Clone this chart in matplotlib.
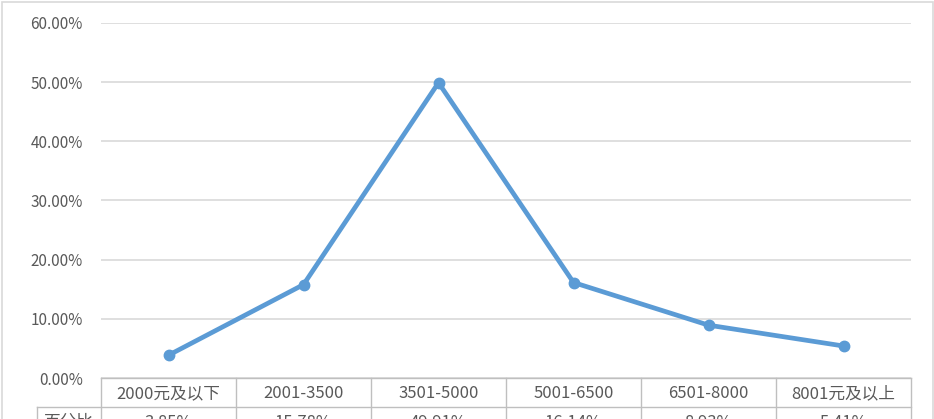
import matplotlib.pyplot as plt
from matplotlib.patches import Rectangle
from matplotlib.lines import Line2D

plt.rcParams['font.family'] = ['Noto Sans CJK SC', 'DejaVu Sans']

# Data
categories = ["2000元及以下", "2001-3500", "3501-5000", "5001-6500", "6501-8000", "8001元及以上"]
percent = [3.85, 15.78, 49.91, 16.14, 8.93, 5.41]
row_label = "百分比"
yticks = [0, 10, 20, 30, 40, 50, 60]

W, H = 934, 419
fig = plt.figure(figsize=(W / 100, H / 100), dpi=100)

x0, x1 = 101, 911
y_bot, y_top = 378, 23
ax = fig.add_axes([x0 / W, 1 - y_bot / H, (x1 - x0) / W, (y_bot - y_top) / H])

xs = range(len(categories))
ax.plot(xs, percent, color='#5B9BD5', lw=3.4, marker='o', ms=7.5,
        solid_capstyle='round', zorder=3)

ax.set_xlim(-0.5, len(categories) - 0.5)
ax.set_ylim(0, 60)
ax.set_yticks(yticks)
ax.set_yticklabels([f"{v:.2f}%" for v in yticks], color='#595959', fontsize=11,
                   fontweight='light')
ax.tick_params(axis='y', length=0, pad=13)
ax.set_xticks([])
ax.grid(axis='y', color='#D9D9D9', lw=1.2)
ax.set_axisbelow(True)
for s in ax.spines.values():
    s.set_visible(False)

# Table below the plot (drawn in pixel coordinates of the figure)
def fx(px):
    return px / W

def fy(py):
    return 1 - py / H

line_kw = dict(color='#BFBFBF', lw=1.0, transform=fig.transFigure)
row1_top, row1_bot, row2_bot = 378, 407, 436
col_w = (x1 - x0) / len(categories)
label_left = 37
txt_kw = dict(ha='center', va='center', fontsize=12, color='#595959', fontweight='light')

fig.add_artist(Line2D([fx(x0), fx(x1)], [fy(row1_top)] * 2, **line_kw))
fig.add_artist(Line2D([fx(label_left), fx(x1)], [fy(row1_bot)] * 2, **line_kw))
for i in range(len(categories) + 1):
    x = x0 + i * col_w
    fig.add_artist(Line2D([fx(x)] * 2, [fy(row1_top), fy(row2_bot)], **line_kw))
fig.add_artist(Line2D([fx(label_left)] * 2, [fy(row1_bot), fy(row2_bot)], **line_kw))

for i, (cat, val) in enumerate(zip(categories, percent)):
    cx = x0 + (i + 0.5) * col_w
    fig.text(fx(cx), fy((row1_top + row1_bot) / 2 + 1), cat, **txt_kw)
    fig.text(fx(cx), fy((row1_bot + row2_bot) / 2 + 1), f"{val:.2f}%", **txt_kw)
fig.text(fx((label_left + x0) / 2), fy((row1_bot + row2_bot) / 2 + 1), row_label, **txt_kw)

# Chart area border
fig.add_artist(Rectangle((fx(1.5), fy(H + 5)), fx(W - 3), fy(1.5) - fy(H + 5),
                         transform=fig.transFigure, fill=False,
                         edgecolor='#D9D9D9', lw=1.2))

fig.savefig("out.png", dpi=100)
